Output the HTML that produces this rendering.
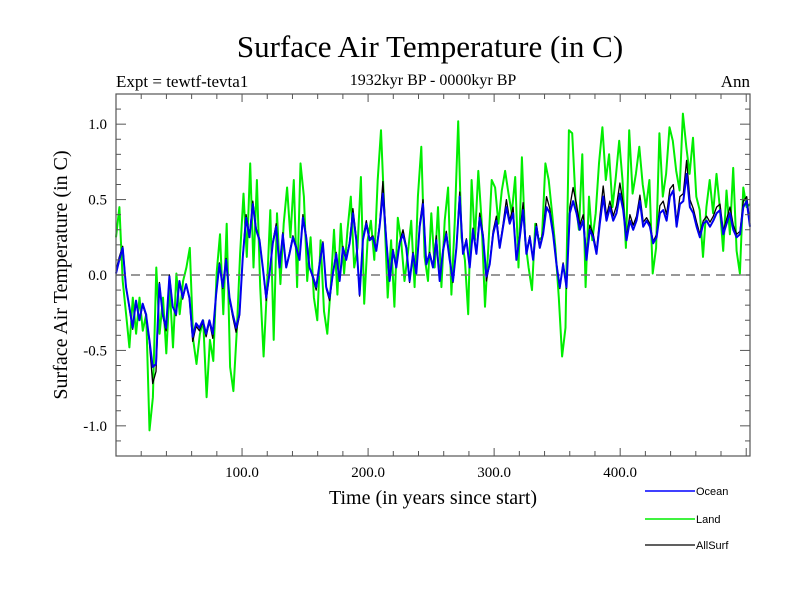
<!DOCTYPE html>
<html><head><meta charset="utf-8"><style>
body{margin:0;background:#fff}
svg{display:block}
text{font-family:"Liberation Serif",serif;fill:#000}
</style></head><body>
<svg id="chart" width="800" height="600" viewBox="0 0 800 600" xmlns="http://www.w3.org/2000/svg">
<text x="430" y="57" font-size="31" text-anchor="middle">Surface Air Temperature (in C)</text>
<text x="116" y="87" font-size="17">Expt = tewtf-tevta1</text>
<text x="433" y="85" font-size="16" text-anchor="middle">1932kyr BP - 0000kyr BP</text>
<text x="750" y="87" font-size="17" text-anchor="end">Ann</text>
<text transform="translate(67,275) rotate(-90)" font-size="20" text-anchor="middle">Surface Air Temperature (in C)</text>
<text x="433" y="504" font-size="20" text-anchor="middle">Time (in years since start)</text>
<g id="plot"></g>
<g>
<g><line x1="645" y1="491" x2="695" y2="491" stroke="#0000ff" stroke-width="1.5"/><text x="696" y="495" font-size="11" style="font-family:'Liberation Sans',sans-serif">Ocean</text></g>
<g><line x1="645" y1="519" x2="695" y2="519" stroke="#00ee00" stroke-width="1.5"/><text x="696" y="523" font-size="11" style="font-family:'Liberation Sans',sans-serif">Land</text></g>
<g><line x1="645" y1="545" x2="695" y2="545" stroke="#000" stroke-width="1.2"/><text x="696" y="549" font-size="11" style="font-family:'Liberation Sans',sans-serif">AllSurf</text></g>
</g>
</svg>
<script>
const xDomain = [0, 503];
const yDomain = [-1.2, 1.2];
const xTickValues = [100, 200, 300, 400];
const xTickLabels = ["100.0", "200.0", "300.0", "400.0"];
const yTickValues = [-1.0, -0.5, 0.0, 0.5, 1.0];
const yTickLabels = ["-1.0", "-0.5", "0.0", "0.5", "1.0"];
const oceanValues = [.01,.10,.18,-.08,-.21,-.35,-.17,-.30,-.19,-.26,-.43,-.61,-.59,-.06,-.26,-.35,-.01,-.21,-.26,-.04,-.15,-.06,-.15,-.41,-.32,-.35,-.30,-.39,-.30,-.39,-.13,.07,-.08,.10,-.15,-.26,-.35,-.26,.12,.38,.25,.47,.30,.23,.05,-.15,.01,.21,.32,.05,.27,.05,.14,.25,.18,.10,.38,.25,.05,-.01,-.08,.07,.21,-.08,-.15,
.01,.14,-.04,.18,.10,.21,.41,.23,-.13,.23,.34,.23,.25,.16,.32,.54,.23,-.04,.16,.05,.21,.27,.18,-.04,.14,.01,.32,.47,.07,.14,.05,.23,-.04,.16,.27,.10,-.04,.18,.52,.14,.23,.05,.30,.14,.38,.25,-.01,.07,.27,.36,.18,.32,.45,.34,.41,.10,.25,.43,.14,.25,.10,.32,.18,
.27,.45,.41,.27,.07,-.08,.07,-.08,.41,.49,.41,.30,.36,.10,.30,.25,.14,.34,.52,.36,.45,.36,.41,.54,.43,.23,.36,.30,.36,.49,.32,.36,.32,.21,.25,.41,.43,.36,.52,.56,.32,.47,.49,.67,.45,.41,.32,.25,.34,.36,.32,.36,.41,.43,.27,.34,.41,.30,.25,.27,.45,.49,.32];
const allSurfValues = [.03,.12,.19,-.07,-.22,-.36,-.18,-.30,-.20,-.27,-.45,-.72,-.64,-.05,-.27,-.37,.00,-.21,-.27,-.04,-.16,-.06,-.16,-.44,-.34,-.37,-.31,-.41,-.31,-.42,-.13,.08,-.09,.11,-.16,-.28,-.38,-.27,.13,.40,.26,.49,.31,.24,.05,-.17,.01,.22,.34,.05,.28,.05,.15,.26,.19,.10,.40,.26,.05,-.02,-.10,.08,.22,-.09,-.17,
.01,.15,-.04,.19,.11,.22,.44,.25,-.14,.24,.36,.24,.26,.17,.34,.62,.24,-.04,.17,.05,.22,.30,.19,-.05,.15,.01,.34,.50,.08,.15,.06,.26,-.04,.17,.29,.11,-.05,.19,.55,.15,.24,.05,.31,.15,.41,.27,-.04,.08,.29,.39,.19,.34,.50,.36,.45,.10,.27,.48,.15,.26,.10,.34,.19,
.29,.52,.44,.29,.08,-.09,.08,-.09,.45,.58,.47,.33,.40,.12,.33,.27,.16,.38,.59,.39,.49,.39,.46,.61,.47,.25,.40,.33,.39,.53,.35,.38,.34,.22,.27,.46,.49,.40,.57,.60,.35,.52,.54,.76,.50,.44,.35,.27,.36,.39,.35,.39,.45,.47,.29,.37,.45,.33,.27,.29,.49,.52,.34];
const landValues = [.25,.45,-.04,-.26,-.48,-.15,-.39,-.15,-.37,-.26,-1.03,-.81,.05,-.39,-.15,-.52,-.08,-.48,.01,-.26,-.04,.05,.18,-.43,-.59,-.39,-.30,-.81,-.43,-.57,.01,.27,-.26,.34,-.61,-.77,-.37,.14,.54,.12,.74,.05,.63,-.08,-.54,-.08,.43,-.43,.41,-.06,.34,.58,.25,.63,-.08,.74,.52,-.04,.25,-.15,-.30,.23,-.24,-.39,
-.08,.30,-.13,.34,.01,.30,.52,.05,.18,.65,-.19,.23,.36,.10,.63,.96,.41,-.15,.23,-.21,.38,.23,-.04,.14,.36,-.08,.52,.85,.12,-.04,.41,.05,.45,-.08,.36,.58,-.13,.36,1.02,.25,.10,-.26,.63,.23,.69,.36,-.21,.18,.63,.58,.34,.56,.69,.54,.41,.65,.05,.78,.23,.05,-.10,.34,.23,
.25,.74,.63,.41,.18,-.15,-.54,-.35,.96,.94,.49,.30,.80,-.08,.52,.23,.41,.74,.98,.63,.80,.45,.65,.89,.63,.18,.96,.54,.67,.85,.60,.45,.63,.01,.18,.94,.52,.67,.98,.89,.69,.56,1.07,.85,.67,.91,.52,.43,.12,.45,.63,.41,.67,.45,.16,.56,.27,.71,.16,.01,.58,.45,.47];

const L=116,R=750,T=94,B=456;
const NS="http://www.w3.org/2000/svg";
function sx(v){return L+(v-xDomain[0])/(xDomain[1]-xDomain[0])*(R-L);}
function sy(v){return B-(v-yDomain[0])/(yDomain[1]-yDomain[0])*(B-T);}
const plot=document.getElementById('plot');
function mk(tag,attrs,parent){const e=document.createElementNS(NS,tag);for(const k in attrs)e.setAttribute(k,attrs[k]);(parent||plot).appendChild(e);return e;}
function series(vals,color,w,name){
  const n=vals.length;let d='';
  vals.forEach((v,i)=>{const yr=xDomain[0]+i*(xDomain[1]-xDomain[0])/(n-1);d+=(i?'L':'M')+sx(yr).toFixed(1)+' '+sy(v).toFixed(1);});
  const p=mk('path',{d:d,fill:'none',stroke:color,'stroke-width':w,'stroke-linejoin':'round'});
  
  
}
series(landValues,'#00ee00',2,'land-series');
const z=mk('line',{x1:L,x2:R,y1:sy(0),y2:sy(0),stroke:'#777','stroke-width':1.5,'stroke-dasharray':'9,6'});


series(allSurfValues,'#000',1.3,'allsurf-series');
series(oceanValues,'#0000ee',2,'ocean-series');
// frame
const fr=mk('rect',{x:L,y:T,width:R-L,height:B-T,fill:'none',stroke:'#555','stroke-width':1.2});


// x ticks
for(let v=20;v<=500;v+=20){
  const major=v%100===0, len=major?8:5;
  mk('line',{x1:sx(v),x2:sx(v),y1:B,y2:B-len,stroke:'#555'});
  mk('line',{x1:sx(v),x2:sx(v),y1:T,y2:T+len,stroke:'#555'});
}
xTickValues.forEach((v,i)=>{
  const t=mk('text',{x:sx(v),y:477,'font-size':15,'text-anchor':'middle'});
  t.textContent=xTickLabels[i];
  
  
});
// y ticks
for(let k=-11;k<=11;k++){
  const v=k/10, major=k%5===0, len=major?10:5;
  mk('line',{x1:L,x2:L+len,y1:sy(v),y2:sy(v),stroke:'#555'});
  mk('line',{x1:R,x2:R-len,y1:sy(v),y2:sy(v),stroke:'#555'});
}
yTickValues.forEach((v,i)=>{
  const t=mk('text',{x:107,y:sy(v)+5,'font-size':15,'text-anchor':'end'});
  t.textContent=yTickLabels[i];
  
  
});
</script>
</body></html>
